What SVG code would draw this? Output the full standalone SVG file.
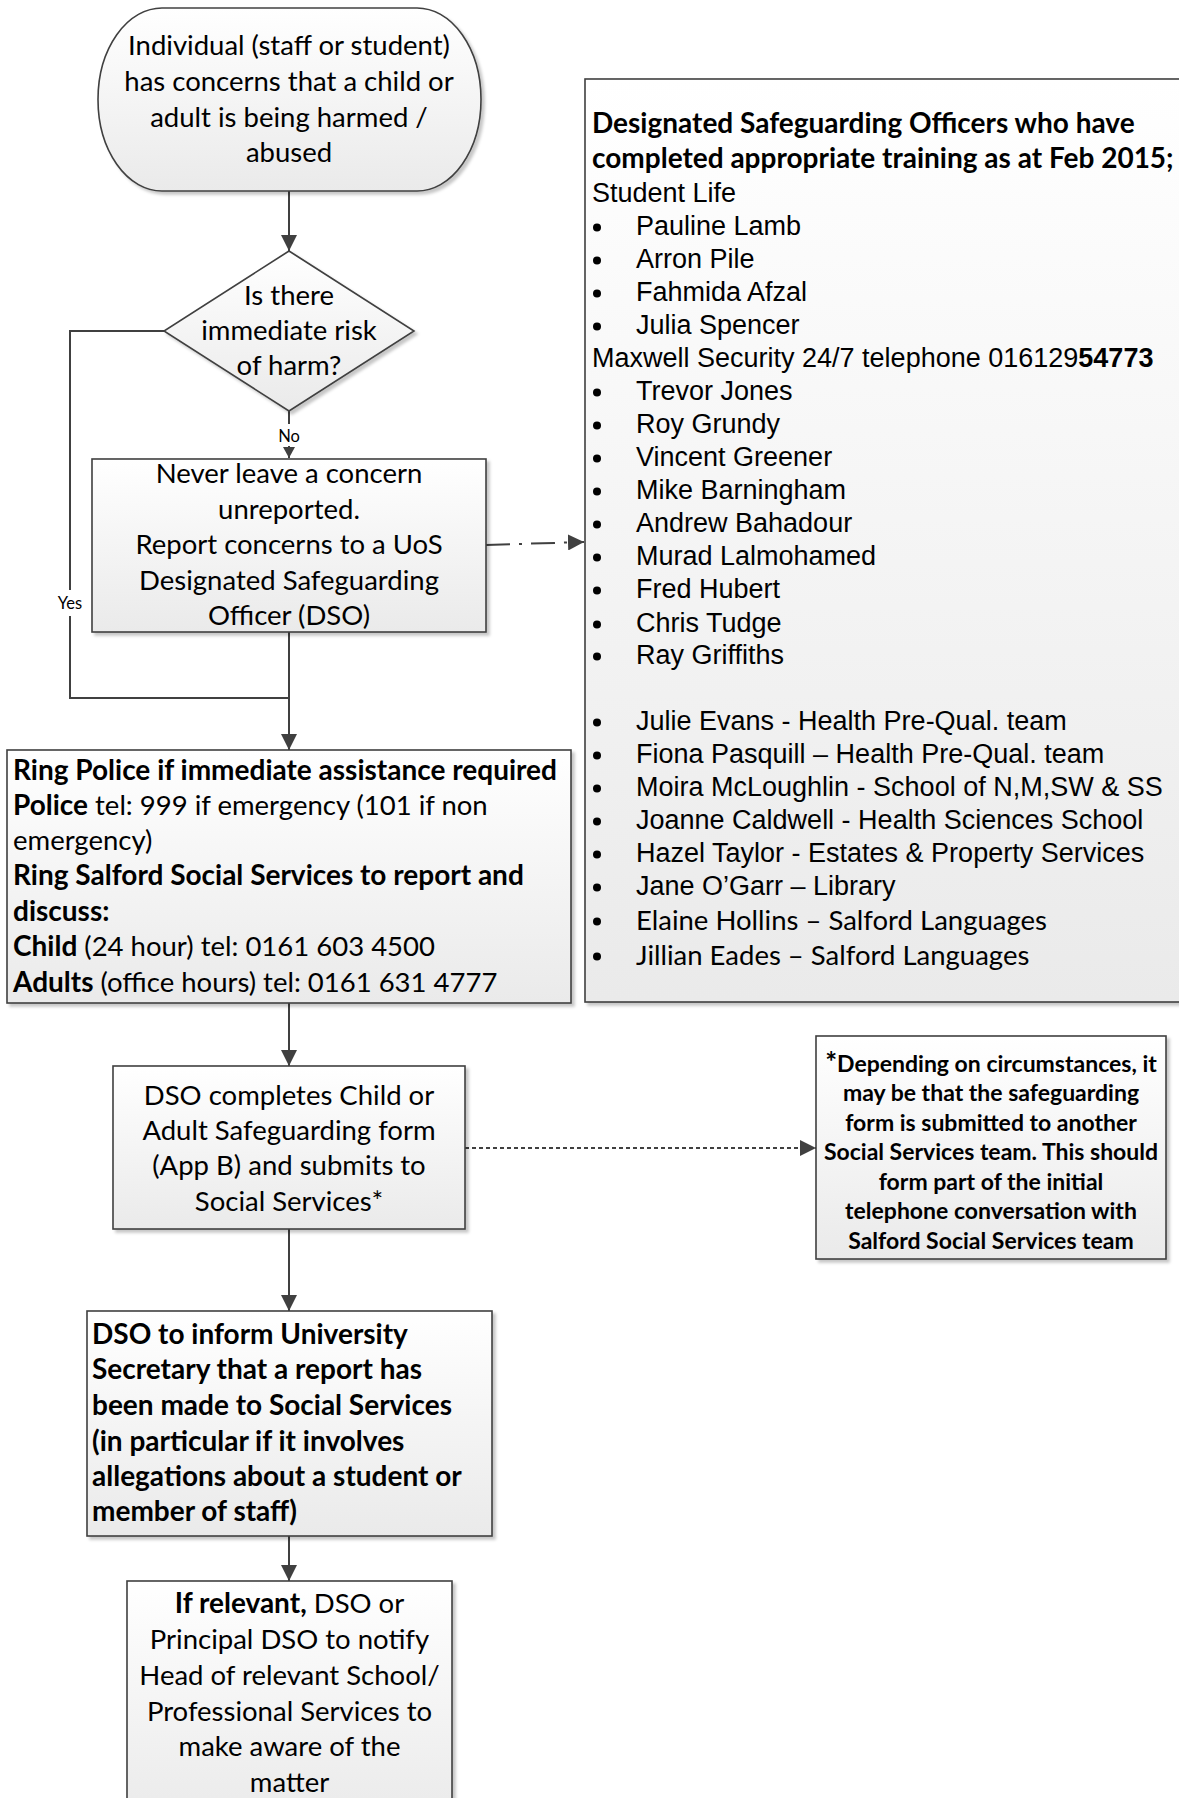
<svg xmlns="http://www.w3.org/2000/svg" width="1179" height="1798" viewBox="0 0 1179 1798">
<style>
.shape{stroke:#404040;stroke-width:1.6;fill:url(#g)}
.conn{stroke:#404040;stroke-width:2;fill:none}
.t{font-family:Lato,"Open Sans",sans-serif;font-size:27.5px;fill:#000}
.m{text-anchor:middle}
.b{font-weight:bold;font-size:28px}
.a{font-family:"Liberation Sans",Arial,sans-serif;font-size:27px;fill:#000}
.bu{fill:#000}
.n{font-family:Lato,"Open Sans",sans-serif;font-size:23px;font-weight:bold;fill:#000;text-anchor:middle}
.lbl{font-family:Lato,"Open Sans",sans-serif;font-size:16.5px;fill:#000;text-anchor:middle}
</style>
<defs>
<linearGradient id="g" x1="0" y1="0" x2="0" y2="1">
<stop offset="0" stop-color="#ffffff"/>
<stop offset="1" stop-color="#eaeaea"/>
</linearGradient>
<filter id="sh" x="-5%" y="-5%" width="115%" height="115%">
<feDropShadow dx="3" dy="3" stdDeviation="1.5" flood-color="#000" flood-opacity="0.22"/>
</filter>
<marker id="ah" markerUnits="userSpaceOnUse" markerWidth="17" markerHeight="16" refX="16" refY="8" orient="auto">
<path d="M0,0 L16,8 L0,16 z" fill="#404040"/>
</marker>
<marker id="ahs" markerUnits="userSpaceOnUse" markerWidth="12" markerHeight="12" refX="11" refY="6" orient="auto">
<path d="M0,0 L11,6 L0,12 z" fill="#404040"/>
</marker>
</defs>
<rect width="1179" height="1798" fill="#ffffff"/>

<g id="connectors">
<path class="conn" d="M289,191 V251" marker-end="url(#ah)"/>
<path class="conn" d="M289,411 V458" marker-end="url(#ahs)"/>
<path class="conn" d="M164,331 H70 V698 H289"/>
<path class="conn" d="M289,632 V750" marker-end="url(#ah)"/>
<path class="conn" d="M486,545 L584,542" stroke-dasharray="24 9 3 9" marker-end="url(#ah)"/>
<path class="conn" d="M289,1003 V1066" marker-end="url(#ah)"/>
<path class="conn" d="M465,1148 H816" stroke-dasharray="4 3" marker-end="url(#ah)"/>
<path class="conn" d="M289,1229 V1311" marker-end="url(#ah)"/>
<path class="conn" d="M289,1536 V1581" marker-end="url(#ah)"/>
<rect x="276" y="424" width="26" height="22" fill="#ffffff"/>
<text class="lbl" x="289" y="442">No</text>
<rect x="55" y="590" width="30" height="26" fill="#ffffff"/>
<text class="lbl" x="70" y="609">Yes</text>
</g>

<g id="start">
<rect class="shape" filter="url(#sh)" x="98" y="8" width="383" height="183" rx="64" ry="91.5"/>
<text class="t m" x="289" y="55">Individual (staff or student)</text>
<text class="t m" x="289" y="91">has concerns that a child or</text>
<text class="t m" x="289" y="127">adult is being harmed /</text>
<text class="t m" x="289" y="162">abused</text>
</g>

<g id="decision">
<path class="shape" filter="url(#sh)" d="M289,251 L414,331 L289,411 L164,331 z"/>
<text class="t m" x="289" y="305">Is there</text>
<text class="t m" x="289" y="340">immediate risk</text>
<text class="t m" x="289" y="375">of harm?</text>
</g>

<g id="report">
<rect class="shape" filter="url(#sh)" x="92" y="459" width="394" height="173"/>
<text class="t m" x="289" y="483">Never leave a concern</text>
<text class="t m" x="289" y="519">unreported.</text>
<text class="t m" x="289" y="554">Report concerns to a UoS</text>
<text class="t m" x="289" y="590">Designated Safeguarding</text>
<text class="t m" x="289" y="625">Officer (DSO)</text>
</g>

<g id="ring-police">
<rect class="shape" filter="url(#sh)" x="7" y="750" width="564" height="253"/>
<text class="t b" x="13" y="780">Ring Police if immediate assistance required</text>
<text class="t" x="13" y="815"><tspan class="b">Police</tspan> tel: 999 if emergency (101 if non</text>
<text class="t" x="13" y="850">emergency)</text>
<text class="t b" x="13" y="885">Ring Salford Social Services to report and</text>
<text class="t b" x="13" y="921">discuss:</text>
<text class="t" x="13" y="956"><tspan class="b">Child</tspan> (24 hour) tel: 0161 603 4500</text>
<text class="t" x="13" y="992"><tspan class="b">Adults</tspan> (office hours) tel: 0161 631 4777</text>
</g>

<g id="dso-list">
<rect class="shape" filter="url(#sh)" x="585" y="79" width="600" height="923"/>
<text class="t b" x="592" y="133">Designated Safeguarding Officers who have</text>
<text class="t b" x="592" y="168">completed appropriate training as at Feb 2015;</text>
<text class="a" x="592" y="202">Student Life</text>
<g class="bu">
<circle cx="597" cy="227.5" r="4"/>
<circle cx="597" cy="260.5" r="4"/>
<circle cx="597" cy="293.5" r="4"/>
<circle cx="597" cy="326.5" r="4"/>
<circle cx="597" cy="392.5" r="4"/>
<circle cx="597" cy="425.5" r="4"/>
<circle cx="597" cy="458.5" r="4"/>
<circle cx="597" cy="491.5" r="4"/>
<circle cx="597" cy="524.5" r="4"/>
<circle cx="597" cy="557.5" r="4"/>
<circle cx="597" cy="590.5" r="4"/>
<circle cx="597" cy="624.5" r="4"/>
<circle cx="597" cy="656.5" r="4"/>
<circle cx="597" cy="722.5" r="4"/>
<circle cx="597" cy="755.5" r="4"/>
<circle cx="597" cy="788.5" r="4"/>
<circle cx="597" cy="821.5" r="4"/>
<circle cx="597" cy="854.5" r="4"/>
<circle cx="597" cy="887.5" r="4"/>
<circle cx="597" cy="921.5" r="4"/>
<circle cx="597" cy="956.5" r="4"/>
</g>
<g class="a">
<text x="636" y="235">Pauline Lamb</text>
<text x="636" y="268">Arron Pile</text>
<text x="636" y="301">Fahmida Afzal</text>
<text x="636" y="334">Julia Spencer</text>
</g>
<text class="a" x="592" y="367">Maxwell Security 24/7 telephone 016129<tspan font-weight="bold">54773</tspan></text>
<g class="a">
<text x="636" y="400">Trevor Jones</text>
<text x="636" y="433">Roy Grundy</text>
<text x="636" y="466">Vincent Greener</text>
<text x="636" y="499">Mike Barningham</text>
<text x="636" y="532">Andrew Bahadour</text>
<text x="636" y="565">Murad Lalmohamed</text>
<text x="636" y="598">Fred Hubert</text>
<text x="636" y="632">Chris Tudge</text>
<text x="636" y="664">Ray Griffiths</text>
<text x="636" y="730">Julie Evans - Health Pre-Qual. team</text>
<text x="636" y="763">Fiona Pasquill – Health Pre-Qual. team</text>
<text x="636" y="796">Moira McLoughlin - School of N,M,SW &amp; SS</text>
<text x="636" y="829">Joanne Caldwell - Health Sciences School</text>
<text x="636" y="862">Hazel Taylor - Estates &amp; Property Services</text>
<text x="636" y="895">Jane O’Garr – Library</text>
</g>
<text class="t" x="636" y="930">Elaine Hollins – Salford Languages</text>
<text class="t" x="636" y="965">Jillian Eades – Salford Languages</text>
</g>

<g id="dso-form">
<rect class="shape" filter="url(#sh)" x="113" y="1066" width="352" height="163"/>
<text class="t m" x="289" y="1105">DSO completes Child or</text>
<text class="t m" x="289" y="1140">Adult Safeguarding form</text>
<text class="t m" x="289" y="1175">(App B) and submits to</text>
<text class="t m" x="289" y="1211">Social Services*</text>
</g>

<g id="note">
<rect class="shape" filter="url(#sh)" x="816" y="1036" width="350" height="223"/>
<text class="n" x="991" y="1072"><tspan font-size="28">*</tspan>Depending on circumstances, it</text>
<text class="n" x="991" y="1101">may be that the safeguarding</text>
<text class="n" x="991" y="1131">form is submitted to another</text>
<text class="n" x="991" y="1160">Social Services team. This should</text>
<text class="n" x="991" y="1190">form part of the initial</text>
<text class="n" x="991" y="1219">telephone conversation with</text>
<text class="n" x="991" y="1249">Salford Social Services team</text>
</g>

<g id="inform-secretary">
<rect class="shape" filter="url(#sh)" x="87" y="1311" width="405" height="225"/>
<text class="t b" x="92" y="1344">DSO to inform University</text>
<text class="t b" x="92" y="1379">Secretary that a report has</text>
<text class="t b" x="92" y="1415">been made to Social Services</text>
<text class="t b" x="92" y="1451">(in particular if it involves</text>
<text class="t b" x="92" y="1486">allegations about a student or</text>
<text class="t b" x="92" y="1521">member of staff)</text>
</g>

<g id="notify-head">
<rect class="shape" filter="url(#sh)" x="127" y="1581" width="325" height="240"/>
<text class="t m" x="289.5" y="1613"><tspan class="b">If relevant,</tspan> DSO or</text>
<text class="t m" x="289.5" y="1649">Principal DSO to notify</text>
<text class="t m" x="289.5" y="1685">Head of relevant School/</text>
<text class="t m" x="289.5" y="1721">Professional Services to</text>
<text class="t m" x="289.5" y="1756">make aware of the</text>
<text class="t m" x="289.5" y="1792">matter</text>
</g>
</svg>
